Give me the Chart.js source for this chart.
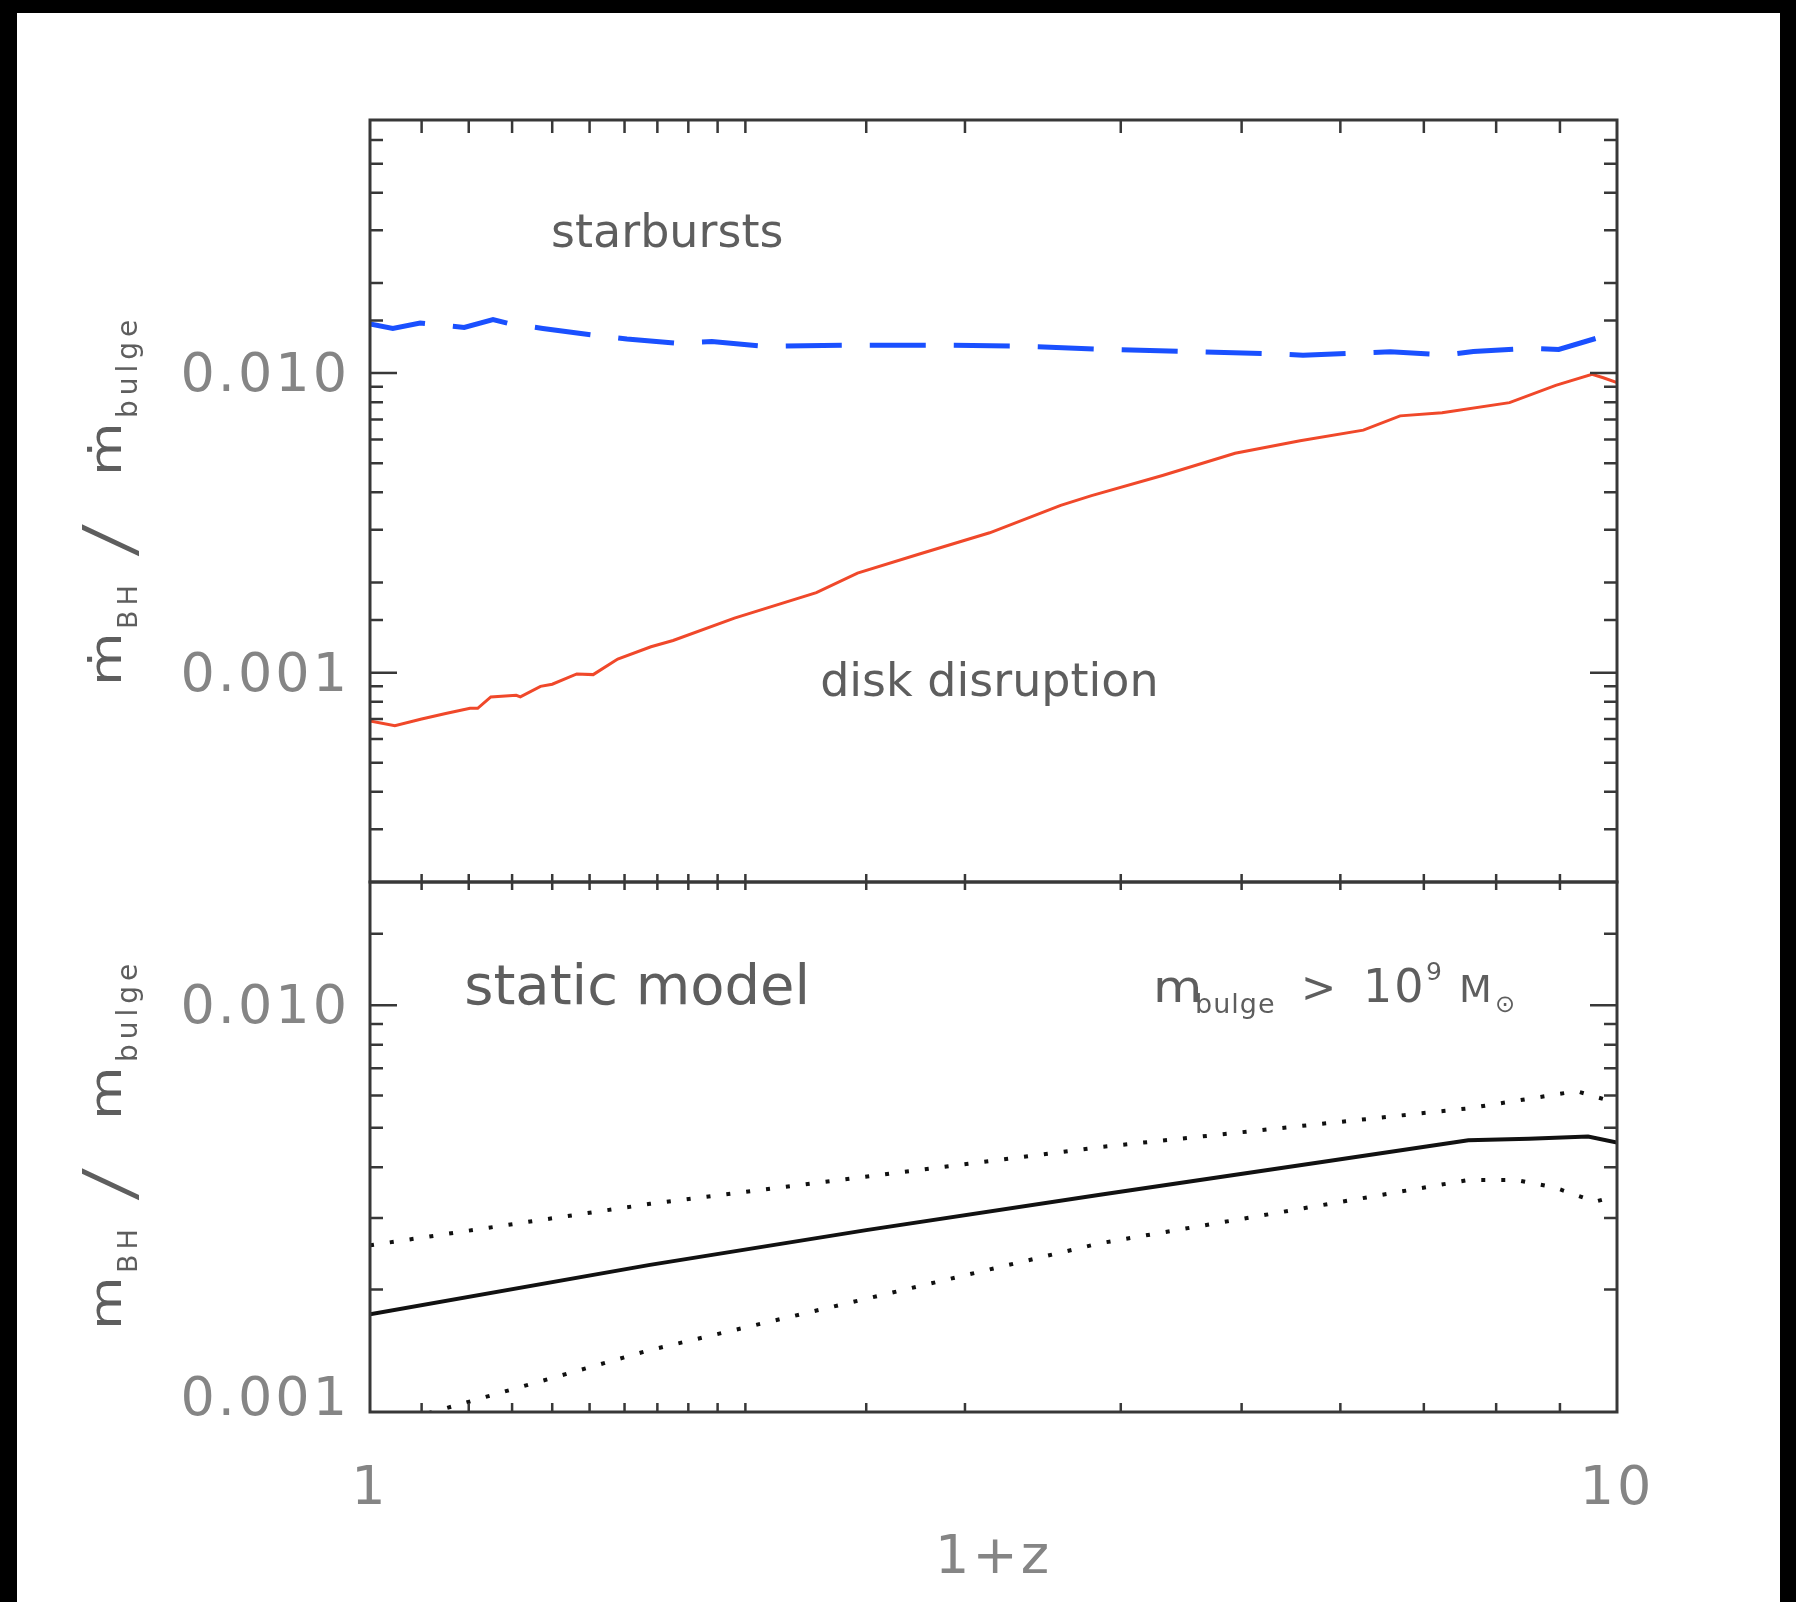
<!DOCTYPE html>
<html>
<head>
<meta charset="utf-8">
<title>Black hole to bulge accretion ratio vs redshift</title>
<script src="https://cdn.jsdelivr.net/npm/chart.js@4.4.1/dist/chart.umd.min.js"></script>
<style>
  html, body { margin: 0; padding: 0; background: #fff; }
  #page { position: relative; width: 1796px; height: 1602px; overflow: hidden; background: #fff; }
  #page canvas { position: absolute; left: 0; top: 0; }
  .edge { position: absolute; background: #000; }
</style>
</head>
<body>
<div id="page">
  <canvas id="rateChart" width="1796" height="1602"></canvas>
  <canvas id="massChart" width="1796" height="1602"></canvas>
  <div class="edge" style="left:0;top:0;width:17px;height:1602px"></div>
  <div class="edge" style="right:0;top:0;width:16px;height:1602px"></div>
  <div class="edge" style="left:0;top:0;width:1796px;height:13px"></div>
</div>
<script>
// ---- upper panel: accretion-rate ratio, (1+z) grid per channel ----
const diskZ = [1.00, 1.047, 1.10, 1.15, 1.203, 1.22, 1.25, 1.31, 1.32, 1.37, 1.40, 1.465, 1.51, 1.58, 1.68,
               1.75, 1.96, 2.28, 2.46, 2.75, 3.14, 3.58, 3.79, 4.32, 4.94, 5.57, 6.26, 6.70, 7.24, 8.20,
               8.93, 9.55, 9.75, 10.0];
const diskRatio = [6.9e-4, 6.65e-4, 7.0e-4, 7.3e-4, 7.6e-4, 7.6e-4, 8.3e-4, 8.4e-4, 8.3e-4, 9.0e-4, 9.15e-4,
                   9.9e-4, 9.85e-4, 1.11e-3, 1.22e-3, 1.28e-3, 1.52e-3, 1.85e-3, 2.15e-3, 2.48e-3, 2.93e-3,
                   3.62e-3, 3.90e-3, 4.55e-3, 5.40e-3, 5.95e-3, 6.45e-3, 7.20e-3, 7.38e-3, 7.97e-3, 9.10e-3,
                   9.90e-3, 9.65e-3, 9.30e-3];

const burstZ = [1.00, 1.043, 1.097, 1.19, 1.255, 1.295, 1.376, 1.51, 1.607, 1.76, 1.88, 2.07, 2.42, 2.84,
                3.32, 3.89, 4.53, 5.32, 5.6, 6.22, 6.58, 7.3, 7.67, 8.5, 8.98, 10.0];
const burstRatio = [0.0146, 0.0141, 0.0147, 0.0142, 0.0151, 0.0146, 0.0141, 0.0134, 0.0130, 0.0126, 0.01274,
                    0.0123, 0.0124, 0.0124, 0.0123, 0.0120, 0.0118, 0.0116, 0.01148, 0.01167, 0.01178,
                    0.0115, 0.0118, 0.0121, 0.0120, 0.0137];

// ---- lower panel: static model mass ratio, median and scatter ----
const staticZ = [1.0, 1.677, 2.5, 3.85, 5.8, 7.6, 8.5, 9.48, 10.0];
const staticMedian = [1.74e-3, 2.3e-3, 2.8e-3, 3.42e-3, 4.12e-3, 4.66e-3, 4.70e-3, 4.76e-3, 4.6e-3];

const upperZ = [1.0, 1.677, 3.85, 7.6, 9.28, 10.0];
const staticUpper = [2.57e-3, 3.25e-3, 4.48e-3, 5.58e-3, 6.15e-3, 5.75e-3];

const lowerZ = [1.0, 1.123, 1.677, 3.85, 7.6, 8.3, 8.9, 9.6, 10.0];
const staticLower = [9.1e-4, 1.0e-3, 1.42e-3, 2.6e-3, 3.72e-3, 3.72e-3, 3.57e-3, 3.29e-3, 3.4e-3];

// ---- axis ranges and tick text ----
const xRange = [1, 10];
const rateRange = [2e-4, 7e-2];
const massRange = [1e-3, 2.01e-2];
const xTickText = { 0: '1', 1: '10' };          // keyed by decade exponent
const yTickText = { '-2': '0.010', '-3': '0.001' };

const FONT = '"DejaVu Sans", "Liberation Sans", sans-serif';
const LABEL_GREY = '#858585';
const TEXT_GREY = '#5e5e5e';
const AXIS_INK = '#383838';

function pairs(xs, ys) { return xs.map((x, i) => ({ x, y: ys[i] })); }
function decadeOf(v) {
  const e = Math.log10(v), r = Math.round(e);
  return Math.abs(e - r) < 1e-6 ? r : null;
}

// slightly open lettering for the axis numbers
const spacedLabels = {
  id: 'spacedLabels',
  beforeDraw(chart) { chart.ctx.letterSpacing = '3px'; },
  afterDraw(chart) { chart.ctx.letterSpacing = '0px'; }
};

// frame with inward ticks on all four sides, like a classic box plot
const frameTicks = {
  id: 'frameTicks',
  afterDraw(chart, args, o) {
    const { ctx, chartArea: a } = chart;
    const x = chart.scales.x, y = chart.scales.y;
    ctx.save();
    ctx.strokeStyle = AXIS_INK;
    ctx.lineWidth = 2.5;
    ctx.beginPath();
    for (const t of y.ticks) {
      const p = y.getPixelForValue(t.value);
      if (p < a.top + 2 || p > a.bottom - 2) continue;
      const len = decadeOf(t.value) !== null ? o.yMajor : o.yMinor;
      ctx.moveTo(a.left, p); ctx.lineTo(a.left + len, p);
      ctx.moveTo(a.right, p); ctx.lineTo(a.right - len, p);
    }
    for (const t of x.ticks) {
      const p = x.getPixelForValue(t.value);
      if (p < a.left + 2 || p > a.right - 2) continue;
      ctx.moveTo(p, a.top); ctx.lineTo(p, a.top + o.xTop);
      ctx.moveTo(p, a.bottom); ctx.lineTo(p, a.bottom - o.xBottom);
    }
    ctx.stroke();
    ctx.lineWidth = 3;
    ctx.strokeRect(a.left, a.top, a.right - a.left, a.bottom - a.top);
    ctx.restore();
  }
};

// mixed-size text (subscripts / superscripts), anchored in data units or in pixels
function drawRuns(ctx, x0, y0, angle, runs, color) {
  ctx.save();
  ctx.translate(x0, y0);
  ctx.rotate(angle);
  ctx.fillStyle = color;
  ctx.textAlign = 'left';
  ctx.textBaseline = 'alphabetic';
  for (const r of runs) {
    ctx.save();
    ctx.font = `${r.weight || 'normal'} ${r.size}px ${r.family || FONT}`;
    ctx.letterSpacing = (r.ls || 0) + 'px';
    ctx.translate(r.dx || 0, r.dy || 0);
    ctx.scale(r.sx || 1, 1);
    ctx.fillText(r.t, 0, 0);
    ctx.restore();
  }
  ctx.restore();
}
const richText = {
  id: 'richText',
  afterDraw(chart, args, o) {
    const { ctx } = chart;
    for (const it of o.items || []) {
      let px, py;
      if (it.data) {
        px = chart.scales.x.getPixelForValue(it.data[0]);
        py = chart.scales.y.getPixelForValue(it.data[1]);
      } else {
        px = it.at[0]; py = it.at[1];
      }
      drawRuns(ctx, px, py, it.angle || 0, it.runs, it.color || TEXT_GREY);
    }
  }
};

function yAxis(range) {
  return {
    type: 'logarithmic',
    position: 'left',
    min: range[0],
    max: range[1],
    grid: { display: false, drawTicks: false },
    border: { display: false },
    afterFit(s) { s.width = 370; },
    ticks: {
      autoSkip: false,
      padding: 20,
      labelOffset: 4,
      color: LABEL_GREY,
      font: { family: FONT, size: 54 },
      callback(v) {
        const d = decadeOf(v);
        return d !== null && yTickText[d] ? yTickText[d] : '';
      }
    }
  };
}

// axis titles: rate ratio (dotted m) and mass ratio, read bottom-to-top
function ratioTitle(dotted, baseY) {
  const m = dotted ? '\u1E41' : 'm';
  return {
    at: [121, baseY], angle: -Math.PI / 2, color: TEXT_GREY,
    runs: [
      { t: m, size: 44, sx: 1.25, dx: 0 },
      { t: 'BH', size: 27, ls: 5, dx: 57, dy: 16 },
      { t: '/', size: 70, weight: 200, sx: 1.5, dx: 128, dy: 12 },
      { t: m, size: 44, sx: 1.25, dx: 210 },
      { t: 'bulge', size: 28, ls: 5, dx: 268, dy: 16 }
    ]
  };
}

// ---------------- upper panel ----------------
new Chart(document.getElementById('rateChart'), {
  type: 'line',
  data: {
    datasets: [
      {
        label: 'disk disruption',
        data: pairs(diskZ, diskRatio),
        borderColor: '#f0482a',
        borderWidth: 3,
        pointRadius: 0,
        tension: 0
      },
      {
        label: 'starbursts',
        data: pairs(burstZ, burstRatio),
        borderColor: '#1a50ff',
        borderWidth: 5,
        borderDash: [56, 28],
        pointRadius: 0,
        tension: 0
      }
    ]
  },
  options: {
    responsive: false,
    animation: false,
    events: [],
    layout: { padding: { top: 120, bottom: 1602 - 882, left: 0, right: 1796 - 1617 } },
    plugins: {
      legend: { display: false },
      tooltip: { enabled: false },
      frameTicks: { yMajor: 27, yMinor: 13, xTop: 13, xBottom: 8 },
      richText: {
        items: [
          { data: [1.397, 0.0263], runs: [{ t: 'starbursts', size: 46 }] },
          { data: [2.296, 8.38e-4], runs: [{ t: 'disk disruption', size: 46 }] },
          ratioTitle(true, 686)
        ]
      }
    },
    scales: {
      x: {
        type: 'logarithmic', min: xRange[0], max: xRange[1],
        grid: { display: false, drawTicks: false },
        border: { display: false },
        ticks: { display: false },
        afterFit(s) { s.height = 0; }
      },
      y: yAxis(rateRange)
    }
  },
  plugins: [spacedLabels, frameTicks, richText]
});

// ---------------- lower panel ----------------
const massY = yAxis(massRange);
massY.ticks.font = { family: FONT, size: 54, lineHeight: '30px' };
massY.ticks.callback = function (v) {
  const d = decadeOf(v);
  if (d === null || !yTickText[d]) return '';
  // the bottom label sits just above the frame corner
  return d === -3 ? [yTickText[d], ''] : yTickText[d];
};

new Chart(document.getElementById('massChart'), {
  type: 'line',
  data: {
    datasets: [
      {
        label: 'median',
        data: pairs(staticZ, staticMedian),
        borderColor: '#111',
        borderWidth: 4,
        pointRadius: 0,
        tension: 0
      },
      {
        label: 'upper',
        data: pairs(upperZ, staticUpper),
        borderColor: '#111',
        borderWidth: 4,
        borderDash: [4, 16],
        pointRadius: 0,
        tension: 0
      },
      {
        label: 'lower',
        data: pairs(lowerZ, staticLower),
        borderColor: '#111',
        borderWidth: 4,
        borderDash: [4, 16],
        pointRadius: 0,
        tension: 0
      }
    ]
  },
  options: {
    responsive: false,
    animation: false,
    events: [],
    layout: { padding: { top: 882, bottom: 0, left: 0, right: 1796 - 1617 } },
    plugins: {
      legend: { display: false },
      tooltip: { enabled: false },
      frameTicks: { yMajor: 27, yMinor: 13, xTop: 8, xBottom: 9 },
      richText: {
        items: [
          { data: [1.19, 0.0101], runs: [{ t: 'static model', size: 56 }] },
          {
            data: [4.246, 0.01017],
            runs: [
              { t: 'm', size: 44, sx: 1.15, dx: 0 },
              { t: 'bulge', size: 27, ls: 1, dx: 42, dy: 11 },
              { t: '>', size: 42, dx: 148 },
              { t: '10', size: 46, ls: 2, dx: 210 },
              { t: '9', size: 25, dx: 273, dy: -22 },
              { t: 'M', size: 38, dx: 306 },
              { t: '\u2299', size: 24, dx: 342, dy: 10 }
            ]
          },
          ratioTitle(false, 1330)
        ]
      }
    },
    scales: {
      x: {
        type: 'logarithmic', min: xRange[0], max: xRange[1],
        grid: { display: false, drawTicks: false },
        border: { display: false },
        afterFit(s) { s.height = 190; },
        ticks: {
          autoSkip: false,
          maxRotation: 0,
          padding: 46,
          color: LABEL_GREY,
          font: { family: FONT, size: 54 },
          callback(v) {
            const d = decadeOf(v);
            return d !== null && xTickText[d] ? xTickText[d] : '';
          }
        },
        title: {
          display: true,
          text: '1+z',
          color: LABEL_GREY,
          font: { family: FONT, size: 54 },
          padding: { top: 0, bottom: 11 }
        }
      },
      y: massY
    }
  },
  plugins: [spacedLabels, frameTicks, richText]
});
</script>
</body>
</html>
